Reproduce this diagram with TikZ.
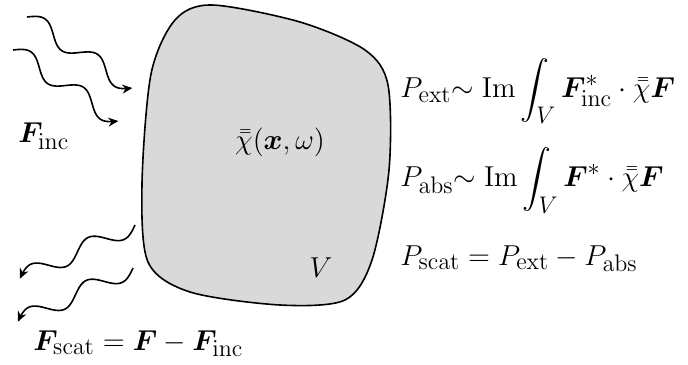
\documentclass[tikz,border=0pt]{standalone}
\usepackage{amsmath}
\usepackage{bm}
\usetikzlibrary{arrows.meta}
\definecolor{BodyGray}{HTML}{D9D9D9}
\DeclareMathSizes{15}{15}{11.5}{9}

\begin{document}
\begin{tikzpicture}[
  x=0.5pt, y=0.5pt,
  body/.style={draw, line width=0.8pt, fill=BodyGray},
  wavy/.style={line width=0.8pt, -{Stealth[length=5pt,width=4.5pt]}},
  lbl/.style={inner sep=0pt, font=\fontsize{15}{18}\selectfont},
  wavetrain/.pic={\draw[wavy] plot[domain=0:127,samples=90,smooth] (\x,{8.5*sin(5.669*\x)});}
]
\useasboundingbox (0,0) rectangle (688,364);

% scattering body
\draw[body] plot[smooth cycle] coordinates {(151,290) (175,344) (212,359) (300,342)
  (365,314) (388,279) (389,194) (372,104) (345,64) (280,59) (190,72) (148,102) (142,180)};
\node[lbl, anchor=base] (chi) at (280,214) {$\bar{\bar{\chi}}(\bm{x},\omega)$};
\node[lbl, anchor=base] (vol) at (321,87) {$V$};

% incident and scattered waves
\coordinate (inc1) at (27,347);
\coordinate (inc2) at (13,314);
\coordinate (sca1) at (135,139);
\coordinate (sca2) at (133,96);
\pic[rotate=-34] at (inc1) {wavetrain};
\pic[rotate=-34] at (inc2) {wavetrain};
\pic[rotate=205] at (sca1) {wavetrain};
\pic[rotate=205] at (sca2) {wavetrain};

\node[lbl, anchor=base west] (finc) at (18,221) {$\bm{F}_{\mathrm{inc}}$};
\node[lbl, anchor=base west] (fscat) at (33,14) {$\bm{F}_{\mathrm{scat}}=\bm{F}-\bm{F}_{\mathrm{inc}}$};

% power balance
\node[lbl, anchor=base west] (pext) at (400,266)
  {$\displaystyle P_{\mathrm{ext}}{\sim}\;\mathrm{Im}\int_V \bm{F}^{*}_{\mathrm{inc}}\cdot\bar{\bar{\chi}}\bm{F}$};
\node[lbl, anchor=base west] (pabs) at (400,177)
  {$\displaystyle P_{\mathrm{abs}}{\sim}\;\mathrm{Im}\int_V \bm{F}^{*}\cdot\bar{\bar{\chi}}\bm{F}$};
\node[lbl, anchor=base west] (pscat) at (400,99)
  {$P_{\mathrm{scat}}=P_{\mathrm{ext}}-P_{\mathrm{abs}}$};
\end{tikzpicture}
\end{document}
